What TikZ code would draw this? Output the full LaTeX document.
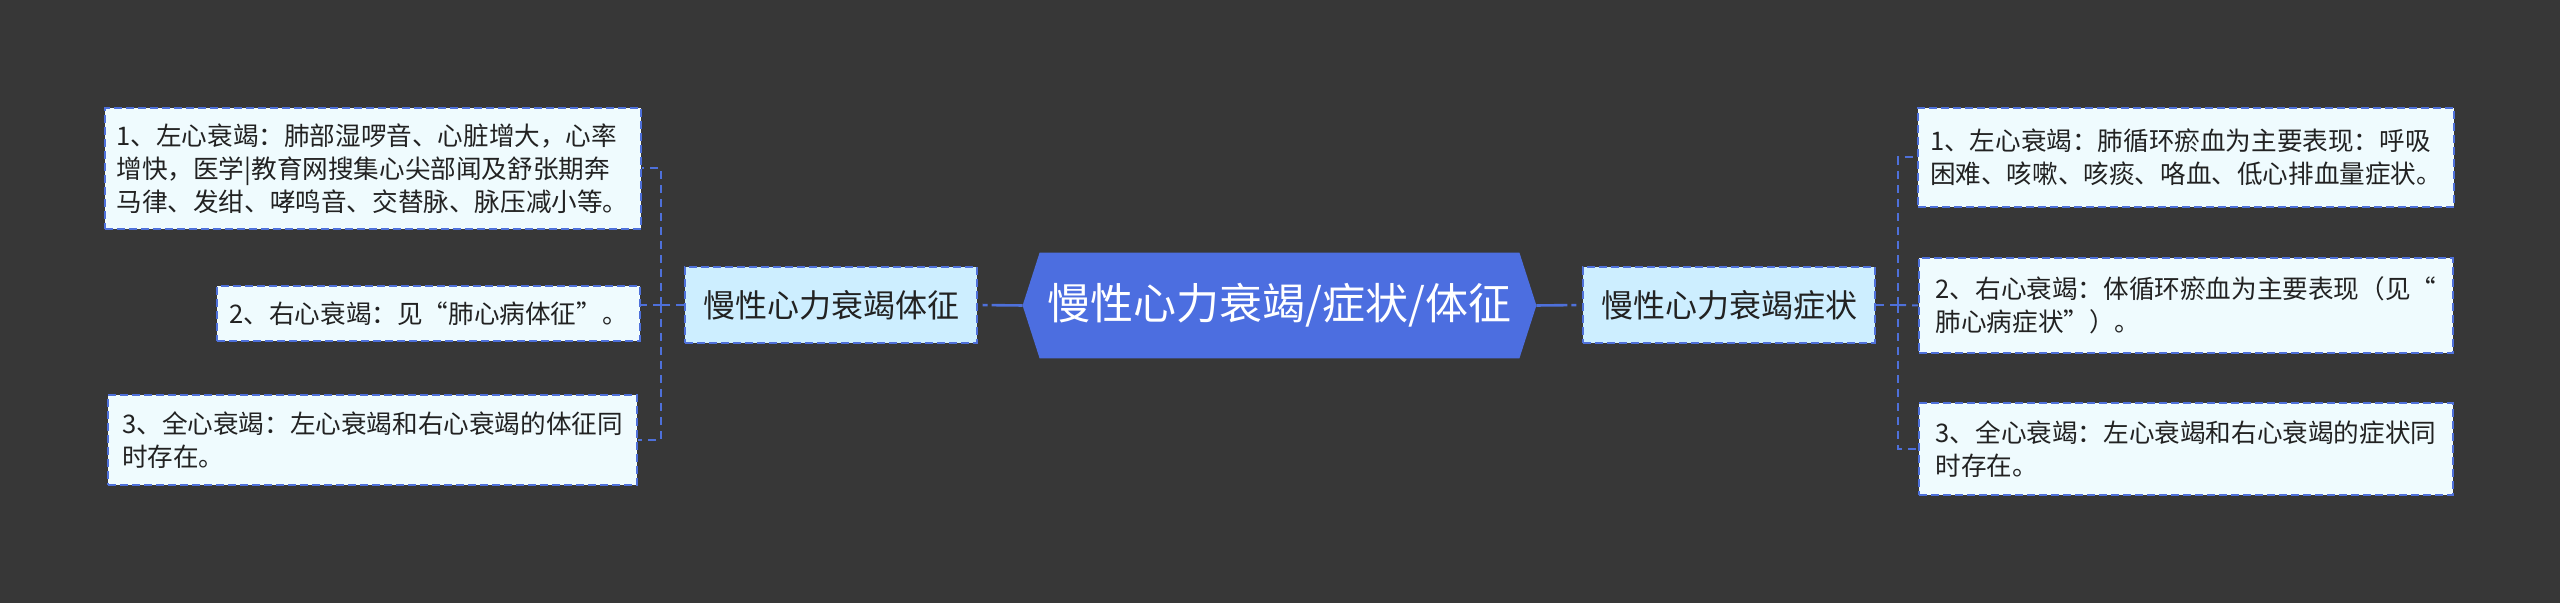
\documentclass[tikz,border=0pt]{standalone}
\usepackage{fontspec}
\setmainfont{Noto Sans CJK SC}
\usetikzlibrary{calc}
\definecolor{bgc}{HTML}{373737}
\definecolor{hexc}{HTML}{4C6EE0}
\definecolor{linec}{HTML}{4E70DA}
\definecolor{mainfill}{HTML}{CDEEFF}
\definecolor{leaffill}{HTML}{EFFBFE}
\definecolor{txtc}{HTML}{222222}
\tikzset{
  leafbox/.style={draw=linec, line width=1pt, dash pattern=on 4pt off 2pt, fill=leaffill,
    text=txtc, align=left, inner xsep=6pt, inner ysep=4pt,
    font=\fontsize{12.8pt}{16.5pt}\selectfont},
  mainbox/.style={draw=linec, line width=1pt, dash pattern=on 4pt off 2pt, fill=mainfill,
    text=txtc, align=center, minimum width=146pt, minimum height=38pt, inner sep=0pt,
    font=\fontsize{16pt}{19pt}\selectfont},
  hexnode/.style={minimum width=256.5pt, minimum height=52.5pt, inner sep=0pt, text=white,
    font=\fontsize{21.5pt}{25pt}\selectfont},
  conn/.style={draw=linec, line width=1pt, dash pattern=on 4pt off 3pt},
  hexconn/.style={draw=linec, line width=1.3pt, dash pattern=on 15.5pt off 2pt on 2.5pt off 10pt}
}
\begin{document}
\begin{tikzpicture}[x=0.5pt, y=-0.5pt]
\fill[bgc] (0,0) rectangle (2560,603);
\useasboundingbox (0,0) rectangle (2560,603);

% central hexagon
\node[hexnode] (hex) at (1279.5,305.5) {};
\fill[hexc] (hex.west) -- ($(hex.north west)+(17,0)$) -- ($(hex.north east)+(-17,0)$) -- (hex.east)
  -- ($(hex.south east)+(-17,0)$) -- ($(hex.south west)+(17,0)$) -- cycle;
\node[hexnode] (hext) at (hex.center) {慢性心力衰竭/症状/体征};

% main branches
\node[mainbox] (lmain) at (831,305) {慢性心力衰竭体征};
\node[mainbox] (rmain) at (1729,305) {慢性心力衰竭症状};

% left leaves
\node[leafbox, minimum width=264.5pt, minimum height=60.5pt] (l1) at (372.5,168.5)
  {1、左心衰竭：肺部湿啰音、心脏增大，心率\\增快，医学|教育网搜集心尖部闻及舒张期奔\\马律、发绀、哮鸣音、交替脉、脉压减小等。};
\node[leafbox, minimum width=208.5pt, minimum height=27.5pt] (l2) at (428.5,313.5)
  {2、右心衰竭：见“肺心病体征”。};
\node[leafbox, minimum width=264.5pt, minimum height=45pt] (l3) at (372.5,440)
  {3、全心衰竭：左心衰竭和右心衰竭的体征同\\时存在。};

% right leaves
\node[leafbox, minimum width=267pt, minimum height=49.5pt] (r1) at (2186,157.5)
  {1、左心衰竭：肺循环瘀血为主要表现：呼吸\\困难、咳嗽、咳痰、咯血、低心排血量症状。};
\node[leafbox, minimum width=267pt, minimum height=47.5pt] (r2) at (2186,305.5)
  {2、右心衰竭：体循环瘀血为主要表现（见“\\肺心病症状”）。};
\node[leafbox, minimum width=267pt, minimum height=46pt] (r3) at (2186,449)
  {3、全心衰竭：左心衰竭和右心衰竭的症状同\\时存在。};

% connectors hexagon -> main
\draw[hexconn] (hex.west) -- (lmain.east);
\draw[hexconn] (hex.east) -- (rmain.west);

% left tree
\coordinate (lj) at (661,305);
\draw[conn] (lmain.west) -- (lj);
\draw[conn] (lj) |- (l1.east);
\draw[conn] (lj) -- (l2.east |- lj);
\draw[conn] (lj) |- (l3.east);

% right tree
\coordinate (rj) at (1898,305);
\draw[conn] (rmain.east) -- (rj);
\draw[conn] (rj) |- (r1.west);
\draw[conn] (rj) -- (r2.west);
\draw[conn] (rj) |- (r3.west);
\end{tikzpicture}
\end{document}
